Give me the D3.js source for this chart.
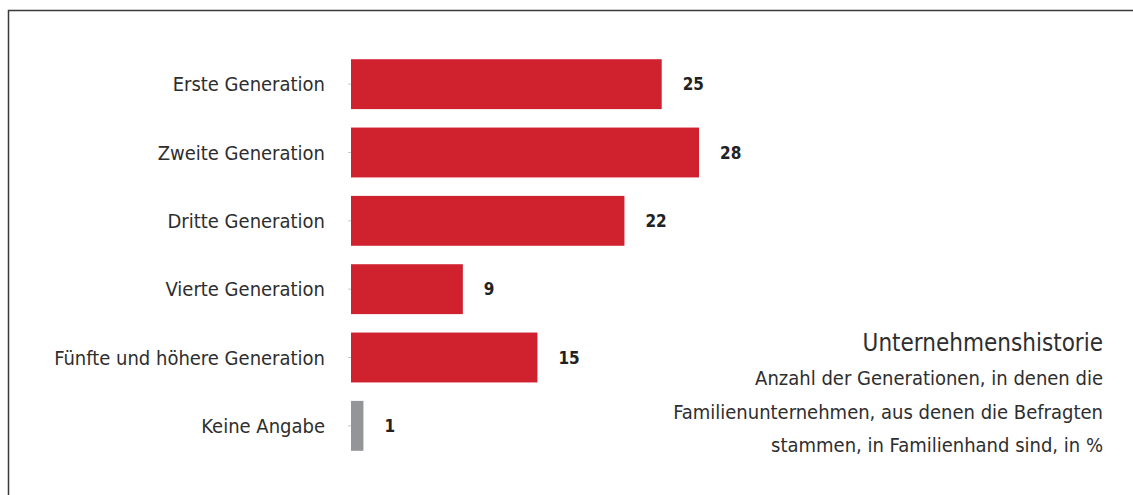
<!DOCTYPE html>
<html>
<head>
<meta charset="utf-8">
<script src="https://cdn.jsdelivr.net/npm/d3@7"></script>
<style>
  body { margin: 0; background: #fff; }
  svg text { font-family: "DejaVu Sans Condensed", "DejaVu Sans", sans-serif; font-stretch: condensed; }
</style>
</head>
<body>
<div id="chart"></div>
<script>
// Data
var categories = ["Erste Generation", "Zweite Generation", "Dritte Generation",
                  "Vierte Generation", "Fünfte und höhere Generation", "Keine Angabe"];
var values = [25, 28, 22, 9, 15, 1];
var barColors = ["#d0212f", "#d0212f", "#d0212f", "#d0212f", "#d0212f", "#939598"];

var title = "Unternehmenshistorie";
var subtitle = ["Anzahl der Generationen, in denen die",
                "Familienunternehmen, aus denen die Befragten",
                "stammen, in Familienhand sind, in %"];

var width = 1133, height = 495;

var svg = d3.select("#chart").append("svg")
    .attr("width", width)
    .attr("height", height);

// frame (only top and left edge visible)
svg.append("path")
    .attr("d", "M8.5," + height + "V10.5H" + width)
    .attr("fill", "none")
    .attr("stroke", "#3a3a3a")
    .attr("stroke-width", 1.5);

var x = d3.scaleLinear()
    .domain([0, d3.max(values)])
    .range([351, 699]);

var y = d3.scaleBand()
    .domain(categories)
    .range([50, 460])
    .paddingInner(0.27)
    .paddingOuter(0.135);

// y axis: tiny ticks + category labels
var yAxis = svg.append("g")
    .attr("transform", "translate(351,0)")
    .call(d3.axisLeft(y).tickSize(3).tickPadding(23));

yAxis.select(".domain").remove();
yAxis.selectAll(".tick line").attr("stroke", "#c8c8c8");
yAxis.selectAll(".tick text")
    .attr("fill", "#2e2e2e")
    .style("font-size", "20px")
    .attr("dy", "0.35em");

var rows = categories.map(function(c, i) { return { cat: c, val: values[i], color: barColors[i] }; });

svg.append("g")
    .selectAll("rect")
    .data(rows)
    .enter()
    .append("rect")
    .attr("x", x(0))
    .attr("y", function(d) { return y(d.cat); })
    .attr("width", function(d) { return x(d.val) - x(0); })
    .attr("height", y.bandwidth())
    .attr("fill", function(d) { return d.color; });

svg.append("g")
    .selectAll("text")
    .data(rows)
    .enter()
    .append("text")
    .attr("x", function(d) { return x(d.val) + 21; })
    .attr("y", function(d) { return y(d.cat) + y.bandwidth() / 2 + 6; })
    .attr("fill", "#222")
    .style("font-size", "17px")
    .style("font-weight", "bold")
    .text(function(d) { return d.val; });

// title block, right aligned
svg.append("text")
    .attr("x", 1103)
    .attr("y", 351)
    .attr("text-anchor", "end")
    .attr("fill", "#2e2e2e")
    .style("font-size", "24px")
    .text(title);

svg.append("g")
    .selectAll("text")
    .data(subtitle)
    .enter()
    .append("text")
    .attr("x", 1103)
    .attr("y", function(d, i) { return 385 + i * 33.5; })
    .attr("text-anchor", "end")
    .attr("fill", "#2e2e2e")
    .style("font-size", "20px")
    .text(function(d) { return d; });
</script>
</body>
</html>
